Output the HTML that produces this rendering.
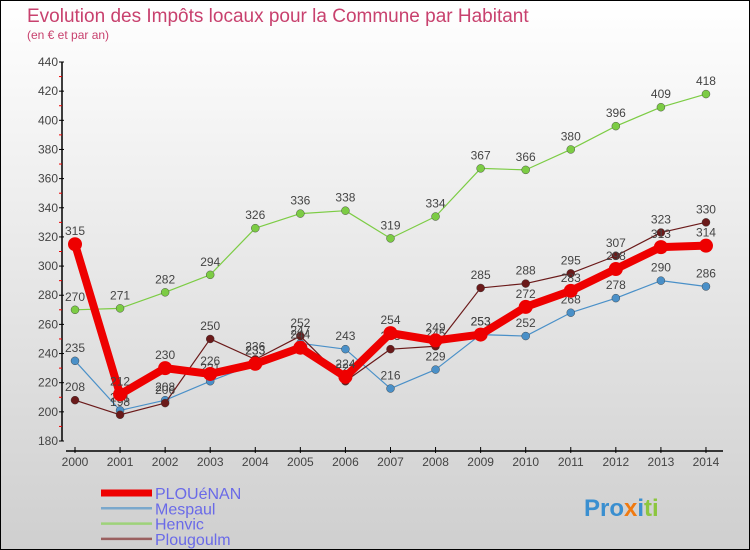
<!DOCTYPE html>
<html><head><meta charset="utf-8"><style>
html,body{margin:0;padding:0}
body{width:750px;height:550px;overflow:hidden}
#wrap{position:relative;width:748px;height:548px;border:1px solid #000;background:linear-gradient(#ffffff,#cfcfcf)}
svg{position:absolute;left:0;top:0}
text{font-family:"Liberation Sans",sans-serif}
</style></head><body>
<div id="wrap">
<svg id="chart" width="748" height="548">
<text x="26" y="21" font-size="19" fill="#c8416e">Evolution des Impôts locaux pour la Commune par Habitant</text>
<text x="26" y="38" font-size="12" fill="#c8416e">(en € et par an)</text>
</svg>
</div>
<script>
const years=[2000,2001,2002,2003,2004,2005,2006,2007,2008,2009,2010,2011,2012,2013,2014];
const plouenan=[315,212,230,226,233,244,224,254,249,253,272,283,298,313,314];
const mespaul=[235,201,208,221,233,247,243,216,229,253,252,268,278,290,286];
const henvic=[270,271,282,294,326,336,338,319,334,367,366,380,396,409,418];
const plougoulm=[208,198,206,250,236,252,221,243,245,285,288,295,307,323,330];
const yTicks=[180,200,220,240,260,280,300,320,340,360,380,400,420,440];
const NS='http://www.w3.org/2000/svg';
const svg=document.getElementById('chart');
const X=i=>74+i*45.07;
const Y=v=>440-(v-180)*(379/260);
function mk(tag,attrs,parent){const e=document.createElementNS(NS,tag);for(const k in attrs)e.setAttribute(k,attrs[k]);(parent||svg).appendChild(e);return e;}
// axes
const ya=mk('line',{x1:61,y1:Y(440),x2:61,y2:Y(180),stroke:'#000','stroke-width':1.5});


const xa=mk('line',{x1:65,y1:450,x2:722,y2:450,stroke:'#000','stroke-width':1.5});


yTicks.forEach((t,i)=>{
 mk('line',{x1:58,y1:Y(t),x2:63,y2:Y(t),stroke:'#000'});
 if(i<yTicks.length-1) mk('line',{x1:58,y1:Y(t+10),x2:61,y2:Y(t+10),stroke:'#e00'});
 const l=mk('text',{x:57,y:Y(t)+4,'font-size':12,fill:'#444','text-anchor':'end'});
 l.textContent=t;
 
 
});
years.forEach((yr,i)=>{
 mk('line',{x1:X(i),y1:446,x2:X(i),y2:452,stroke:'#000'});
 const l=mk('text',{x:X(i),y:465,'font-size':12,fill:'#444','text-anchor':'middle'});
 l.textContent=yr;
 
 
});
const series=[
 {name:'mespaul',data:mespaul,color:'#4a90c8',w:1.2,r:4},
 {name:'henvic',data:henvic,color:'#7ccc44',w:1.2,r:4},
 {name:'plougoulm',data:plougoulm,color:'#6b1a1a',w:1.2,r:4},
 {name:'plouenan',data:plouenan,color:'#ee0000',w:8,r:7}
];
series.forEach(s=>{
 const g=mk('g',{});
 
 
 const p=mk('polyline',{points:s.data.map((v,i)=>X(i)+','+Y(v)).join(' '),fill:'none',stroke:s.color,'stroke-width':s.w,'stroke-linejoin':'round'},g);
 
 
 s.data.forEach((v,i)=>{
  const c=mk('circle',{cx:X(i),cy:Y(v),r:s.r,fill:s.color,stroke:s.w>2?'none':'#333','stroke-width':0.4},g);
  
  
  const t=mk('text',{x:X(i),y:Y(v)-9,'font-size':12,fill:'#444','text-anchor':'middle'},g);
  t.textContent=v;
  
  
 });
});
const legend=[['PLOUéNAN','#ee0000',7],['Mespaul','#7aa8cc',2.5],['Henvic','#9ed27a',2.5],['Plougoulm','#9a6060',2.5]];
legend.forEach((l,i)=>{
 const y=492+i*15.3;
 const g=mk('g',{});
 
 
 mk('line',{x1:100,y1:y,x2:151,y2:y,stroke:l[1],'stroke-width':l[2]},g);
 const t=mk('text',{x:154,y:y+6,'font-size':16,fill:'#6a6ae8'},g);
 t.textContent=l[0];
});
const b=mk('text',{x:583,y:515,'font-size':24,'font-weight':'bold',fill:'#f0a020'});
b.innerHTML='<tspan fill="#3a8fd0">Pro</tspan><tspan fill="#f07a10">x</tspan><tspan fill="#3a8fd0">i</tspan><tspan fill="#8cc63f">ti</tspan>';


</script>
</body></html>
